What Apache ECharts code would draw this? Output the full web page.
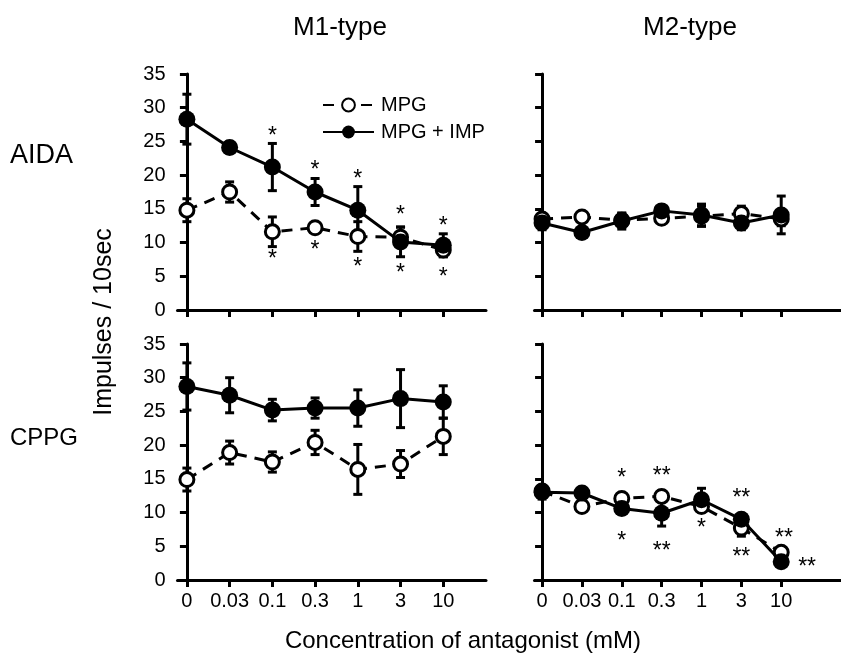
<!DOCTYPE html>
<html>
<head>
<meta charset="utf-8">
<script src="https://cdn.jsdelivr.net/npm/echarts@6/dist/echarts.min.js"></script>
<style>
  html, body { margin: 0; padding: 0; background: #fff; }
  #main { width: 841px; height: 659px; }
</style>
</head>
<body>
<div id="main"></div>
<script>
// 横轴浓度标签
var doses = ['0', '0.03', '0.1', '0.3', '1', '3', '10'];

// AIDA, M1-type
var aidaM1Mpg = [14.8, 17.5, 11.6, 12.2, 10.9, 10.8, 8.9];
var aidaM1MpgErr = [1.7, 1.5, 2.2, 0.5, 2.2, 1.5, 1.0];
var aidaM1Imp = [28.3, 24.1, 21.2, 17.5, 14.8, 10.1, 9.6];
var aidaM1ImpErr = [3.7, 0.8, 3.5, 2.0, 3.5, 2.2, 1.7];
// AIDA, M2-type
var aidaM2Mpg = [13.5, 13.8, 13.3, 13.6, 13.9, 14.3, 13.5];
var aidaM2MpgErr = [0.8, 0.5, 1.0, 0.8, 1.5, 1.1, 1.0];
var aidaM2Imp = [12.9, 11.5, 13.2, 14.7, 14.1, 12.9, 14.1];
var aidaM2ImpErr = [1.0, 0.5, 1.2, 0.6, 1.6, 1.0, 2.8];
// CPPG, M1-type
var cppgM1Mpg = [14.9, 18.9, 17.5, 20.4, 16.4, 17.2, 21.3];
var cppgM1MpgErr = [1.7, 1.7, 1.5, 1.8, 3.7, 2.0, 2.7];
var cppgM1Imp = [28.7, 27.4, 25.2, 25.5, 25.5, 26.9, 26.4];
var cppgM1ImpErr = [3.5, 2.6, 1.6, 1.5, 2.7, 4.3, 2.4];
// CPPG, M2-type
var cppgM2Mpg = [13.2, 10.9, 12.1, 12.4, 10.9, 7.7, 4.1];
var cppgM2MpgErr = [0.8, 0.5, 0.5, 0.8, 0.8, 1.2, 0.6];
var cppgM2Imp = [13.0, 12.9, 10.6, 9.9, 11.9, 9.0, 2.7];
var cppgM2ImpErr = [1.0, 0.8, 0.8, 1.9, 1.7, 0.8, 0.6];

// 显著性星号 [x, y, text]
var aidaM1Stars = [[2, 26.4, '*'], [2, 8.2, '*'], [3, 21.4, '*'], [3, 9.6, '*'], [4, 20.0, '*'], [4, 7.0, '*'],
    [5, 14.8, '*'], [5, 6.2, '*'], [6, 13.1, '*'], [6, 5.5, '*']];
var cppgM2Stars = [[2, 15.8, '*'], [2, 6.4, '*'], [3, 16.1, '**'], [3, 5.0, '**'], [4, 8.3, '*'],
    [5, 12.8, '**'], [5, 4.0, '**'], [6.07, 6.9, '**'], [6.65, 2.6, '**']];

var FONT = 'Liberation Sans, Arial, Helvetica, sans-serif';
var tickIdx = [0, 1, 2, 3, 4, 5, 6];

function pairs(vals) {
    var out = [];
    for (var i = 0; i < vals.length; i++) out.push([i, vals[i]]);
    return out;
}
function triples(vals, errs) {
    var out = [];
    for (var i = 0; i < vals.length; i++) out.push([i, vals[i], errs[i]]);
    return out;
}

function renderErr(params, api) {
    var x = api.value(0), y = api.value(1), e = api.value(2);
    var top = api.coord([x, y + e]);
    var bot = api.coord([x, y - e]);
    var w = 4.5;
    var st = { stroke: '#000', lineWidth: 3 };
    return {
        type: 'group',
        children: [
            { type: 'line', shape: { x1: top[0], y1: top[1], x2: bot[0], y2: bot[1] }, style: st },
            { type: 'line', shape: { x1: top[0] - w, y1: top[1], x2: top[0] + w, y2: top[1] }, style: st },
            { type: 'line', shape: { x1: bot[0] - w, y1: bot[1], x2: bot[0] + w, y2: bot[1] }, style: st }
        ]
    };
}

// 星号用 custom 系列画，文字从原数组取
function starRenderer(list) {
    return function (params, api) {
        var p = api.coord([api.value(0), api.value(1)]);
        return {
            type: 'text',
            x: p[0], y: p[1] + 5,
            style: {
                text: list[params.dataIndex][2],
                fill: '#000',
                font: '23px ' + FONT,
                align: 'center',
                verticalAlign: 'middle'
            }
        };
    };
}
function starPoints(list) {
    var out = [];
    for (var i = 0; i < list.length; i++) out.push([list[i][0], list[i][1]]);
    return out;
}

var gridPos = [
    { left: 177.5, top: 74, width: 308.5, height: 236 },
    { left: 534.5, top: 74, width: 330, height: 236 },
    { left: 177.5, top: 344, width: 308.5, height: 236 },
    { left: 534.5, top: 344, width: 330, height: 236 }
];

var xAxes = [], yAxes = [];
for (var g = 0; g < 4; g++) {
    var isLeft = (g % 2 === 0), isBottom = (g >= 2);
    xAxes.push({
        type: 'value', gridIndex: g,
        min: isLeft ? -0.22 : -0.19,
        max: isLeft ? 7.0 : 7.5,
        splitLine: { show: false },
        axisLine: { lineStyle: { color: '#000', width: 3 } },
        axisTick: { customValues: tickIdx, length: 7, lineStyle: { color: '#000', width: 3 } },
        axisLabel: {
            show: isBottom, customValues: tickIdx, margin: 11,
            color: '#000', fontSize: 20, fontFamily: FONT,
            formatter: function (v) { return doses[Math.round(v)]; }
        }
    });
    yAxes.push({
        type: 'value', gridIndex: g, min: 0, max: 35, interval: 5,
        splitLine: { show: false },
        axisLine: { lineStyle: { color: '#000', width: 3 } },
        axisTick: { length: 7, lineStyle: { color: '#000', width: 3 } },
        axisLabel: { show: isLeft, margin: 12, color: '#000', fontSize: 20, fontFamily: FONT }
    });
}

var panels = [
    [aidaM1Mpg, aidaM1MpgErr, aidaM1Imp, aidaM1ImpErr],
    [aidaM2Mpg, aidaM2MpgErr, aidaM2Imp, aidaM2ImpErr],
    [cppgM1Mpg, cppgM1MpgErr, cppgM1Imp, cppgM1ImpErr],
    [cppgM2Mpg, cppgM2MpgErr, cppgM2Imp, cppgM2ImpErr]
];

var series = [];
for (var k = 0; k < panels.length; k++) {
    var p = panels[k];
    series.push({
        type: 'custom', xAxisIndex: k, yAxisIndex: k, renderItem: renderErr,
        data: triples(p[0], p[1]), z: 1, silent: true
    });
    series.push({
        type: 'custom', xAxisIndex: k, yAxisIndex: k, renderItem: renderErr,
        data: triples(p[2], p[3]), z: 1, silent: true
    });
    series.push({
        name: 'MPG', type: 'line', xAxisIndex: k, yAxisIndex: k,
        data: pairs(p[0]), symbol: 'circle', symbolSize: 14, z: 3,
        lineStyle: { color: '#000', width: 3, type: [11, 8] },
        itemStyle: { color: '#fff', borderColor: '#000', borderWidth: 3 },
        emphasis: { disabled: true }
    });
    series.push({
        name: 'MPG + IMP', type: 'line', xAxisIndex: k, yAxisIndex: k,
        data: pairs(p[2]), symbol: 'circle', symbolSize: 17, z: 4,
        lineStyle: { color: '#000', width: 3 },
        itemStyle: { color: '#000' },
        emphasis: { disabled: true }
    });
}
series.push({ type: 'custom', xAxisIndex: 0, yAxisIndex: 0, renderItem: starRenderer(aidaM1Stars), data: starPoints(aidaM1Stars), z: 5, silent: true });
series.push({ type: 'custom', xAxisIndex: 3, yAxisIndex: 3, renderItem: starRenderer(cppgM2Stars), data: starPoints(cppgM2Stars), z: 5, silent: true });

var myChart = echarts.init(document.getElementById('main'));
var option = {
    backgroundColor: '#fff',
    animation: false,
    grid: gridPos,
    xAxis: xAxes,
    yAxis: yAxes,
    legend: {
        data: ['MPG', 'MPG + IMP'],
        orient: 'vertical', left: 317, top: 90,
        itemWidth: 51, itemHeight: 16, itemGap: 7,
        textStyle: { color: '#000', fontSize: 20, fontFamily: FONT, padding: [0, 0, 0, 2] }
    },
    graphic: [
        { type: 'text', x: 340, y: 28, style: { text: 'M1-type', font: '26px ' + FONT, fill: '#000', align: 'center', verticalAlign: 'middle' } },
        { type: 'text', x: 690, y: 28, style: { text: 'M2-type', font: '26px ' + FONT, fill: '#000', align: 'center', verticalAlign: 'middle' } },
        { type: 'text', x: 10, y: 156, style: { text: 'AIDA', font: '27px ' + FONT, fill: '#000', align: 'left', verticalAlign: 'middle' } },
        { type: 'text', x: 10, y: 438, style: { text: 'CPPG', font: '24px ' + FONT, fill: '#000', align: 'left', verticalAlign: 'middle' } },
        { type: 'text', x: 104, y: 322, rotation: Math.PI / 2, style: { text: 'Impulses / 10sec', font: '25px ' + FONT, fill: '#000', align: 'center', verticalAlign: 'middle' } },
        { type: 'text', x: 463, y: 641, style: { text: 'Concentration of antagonist (mM)', font: '24px ' + FONT, fill: '#000', align: 'center', verticalAlign: 'middle' } }
    ],
    series: series
};
myChart.setOption(option);
</script>
</body>
</html>
